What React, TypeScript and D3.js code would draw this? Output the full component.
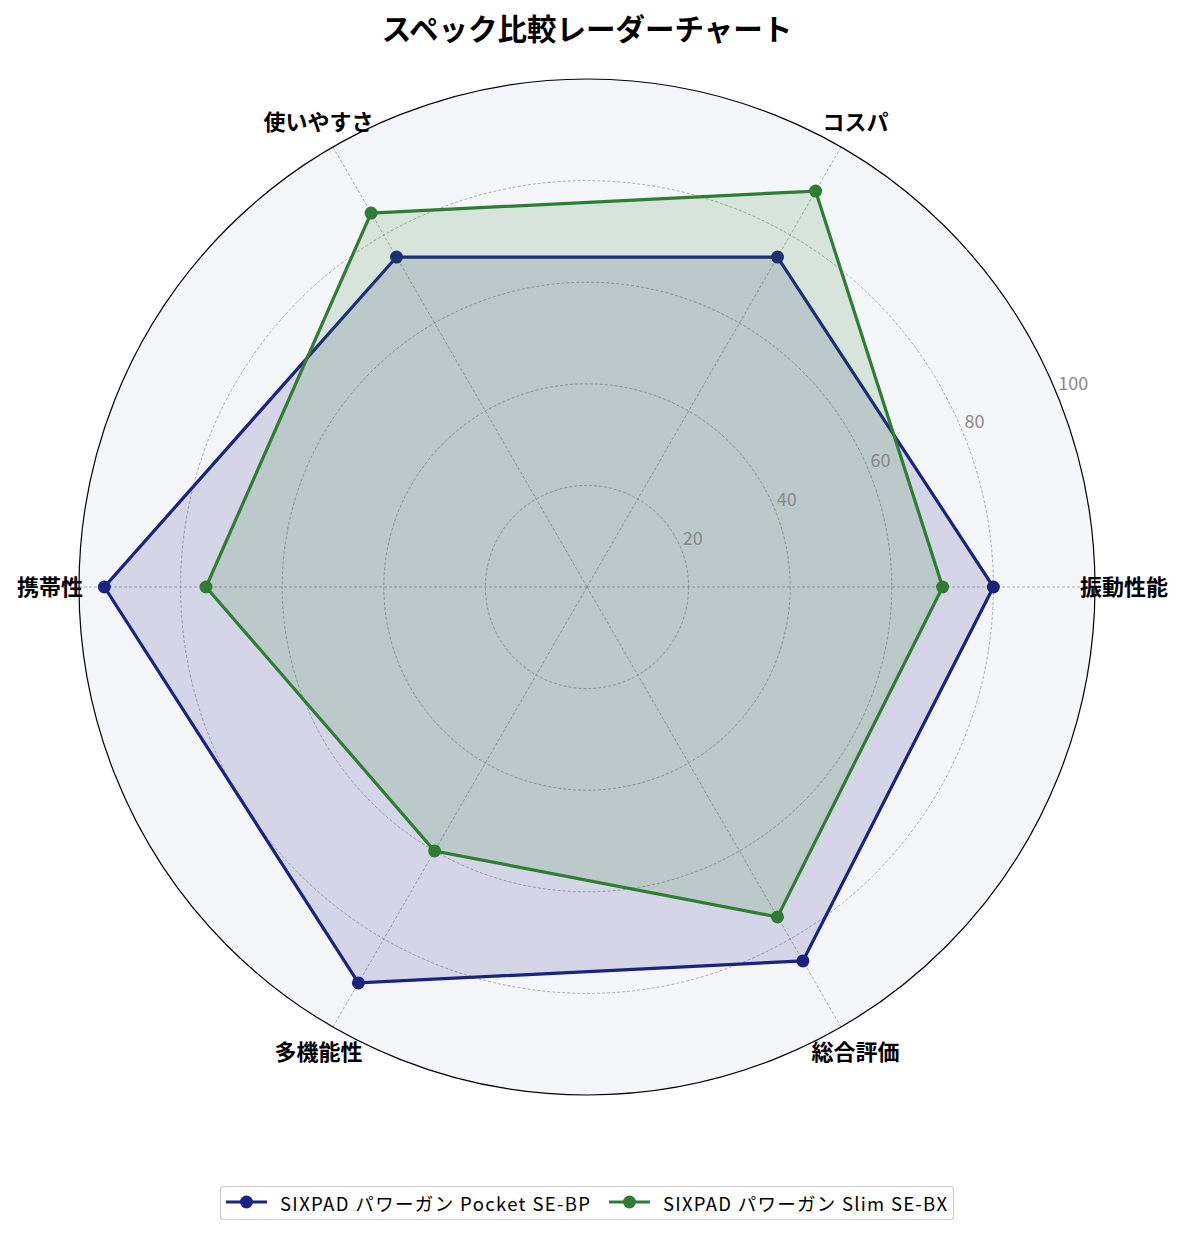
import React, { useEffect, useRef } from 'react';
import * as d3 from 'd3';

const categories = ['振動性能', 'コスパ', '使いやすさ', '携帯性', '多機能性', '総合評価'];
const seriesNames = ['SIXPAD パワーガン Pocket SE-BP', 'SIXPAD パワーガン Slim SE-BX'];
const pocketValues = [80, 75, 75, 95, 90, 85];
const slimValues = [70, 90, 85, 75, 60, 75];
const radialTicks = [20, 40, 60, 80, 100];
const colors = ['#1a237e', '#2e7d32'];

const FONT = '"Noto Sans CJK JP", "Noto Sans", sans-serif';

export default function App() {
  const svgRef = useRef<SVGSVGElement>(null);

  useEffect(() => {
    if (!svgRef.current) return;
    const svg = d3.select(svgRef.current);
    const width = 1185;
    const height = 1235;
    const cx = 587;
    const cy = 587;
    const R = 508;

    svg.selectAll('*').remove();
    svg.attr('width', width).attr('height', height).attr('viewBox', [0, 0, width, height]);

    svg.append('rect').attr('width', width).attr('height', height).attr('fill', '#ffffff');

    const r = d3.scaleLinear().domain([0, 100]).range([0, R]);
    const angle = d3.scaleLinear().domain([0, categories.length]).range([0, 2 * Math.PI]);
    const px = (i: number, v: number) => cx + r(v) * Math.cos(angle(i));
    const py = (i: number, v: number) => cy - r(v) * Math.sin(angle(i));

    const g = svg.append('g');

    // background
    g.append('circle').attr('cx', cx).attr('cy', cy).attr('r', r(100)).attr('fill', '#f5f6fa');

    // grid circles
    g.selectAll('.grid')
      .data(radialTicks.slice(0, -1))
      .enter()
      .append('circle')
      .attr('cx', cx)
      .attr('cy', cy)
      .attr('r', d => r(d))
      .attr('fill', 'none')
      .attr('stroke', '#999')
      .attr('stroke-width', 0.8)
      .attr('stroke-dasharray', '3,2');

    // spokes
    g.selectAll('.spoke')
      .data(categories)
      .enter()
      .append('line')
      .attr('x1', cx)
      .attr('y1', cy)
      .attr('x2', (_, i) => px(i, 100))
      .attr('y2', (_, i) => py(i, 100))
      .attr('stroke', '#999')
      .attr('stroke-width', 0.8)
      .attr('stroke-dasharray', '3,2');

    // series
    const line = d3.line<number>()
      .x((v, i) => px(i, v))
      .y((v, i) => py(i, v))
      .curve(d3.curveLinearClosed);

    [pocketValues, slimValues].forEach((vals, s) => {
      g.append('path')
        .datum(vals)
        .attr('d', line as any)
        .attr('fill', colors[s])
        .attr('fill-opacity', 0.15)
        .attr('stroke', colors[s])
        .attr('stroke-width', 3.2);
      g.selectAll(`.pt${s}`)
        .data(vals)
        .enter()
        .append('circle')
        .attr('cx', (v, i) => px(i, v))
        .attr('cy', (v, i) => py(i, v))
        .attr('r', 6.5)
        .attr('fill', colors[s]);
    });

    // outer circle
    g.append('circle').attr('cx', cx).attr('cy', cy).attr('r', r(100))
      .attr('fill', 'none').attr('stroke', '#000').attr('stroke-width', 1.2);

    // radial tick labels
    const tickAng = Math.PI / 8;
    g.selectAll('.rt')
      .data(radialTicks)
      .enter()
      .append('text')
      .attr('x', d => cx + r(d) * Math.cos(tickAng) + 2)
      .attr('y', d => cy - r(d) * Math.sin(tickAng) - 3)
      .attr('font-family', FONT)
      .attr('font-size', 18)
      .attr('fill', '#888')
      .text(d => d);

    // category labels
    g.selectAll('.cat')
      .data(categories)
      .enter()
      .append('text')
      .attr('x', (_, i) => cx + 537 * Math.cos(angle(i)))
      .attr('y', (_, i) => cy - 537 * Math.sin(angle(i)) - 2)
      .attr('text-anchor', 'middle')
      .attr('dominant-baseline', 'central')
      .attr('font-family', FONT)
      .attr('font-size', 22)
      .attr('font-weight', 'bold')
      .text(d => d);

    // title
    svg.append('text')
      .attr('x', cx)
      .attr('y', 27)
      .attr('text-anchor', 'middle')
      .attr('dominant-baseline', 'central')
      .attr('font-family', FONT)
      .attr('font-size', 29.5)
      .attr('font-weight', 'bold')
      .text('スペック比較レーダーチャート');

    // legend
    const legend = svg.append('g');
    legend.append('rect')
      .attr('x', 220.5).attr('y', 1186.5).attr('width', 733).attr('height', 33)
      .attr('rx', 3).attr('fill', '#fff').attr('stroke', '#ccc').attr('stroke-width', 1.2);
    const legendX = [226, 609];
    const textW = [310, 284];
    seriesNames.forEach((name, s) => {
      const lx = legendX[s];
      legend.append('line')
        .attr('x1', lx).attr('x2', lx + 41).attr('y1', 1202).attr('y2', 1202)
        .attr('stroke', colors[s]).attr('stroke-width', 3.2);
      legend.append('circle').attr('cx', lx + 20.5).attr('cy', 1202).attr('r', 6.5).attr('fill', colors[s]);
      legend.append('text')
        .attr('x', lx + 54).attr('y', 1203)
        .attr('dominant-baseline', 'central')
        .attr('font-family', FONT)
        .attr('font-size', 18.5)
        .attr('textLength', textW[s])
        .attr('lengthAdjust', 'spacing')
        .text(name);
    });
  }, []);

  return <svg ref={svgRef} style={{ position: 'absolute', left: 0, top: 0 }} />;
}
